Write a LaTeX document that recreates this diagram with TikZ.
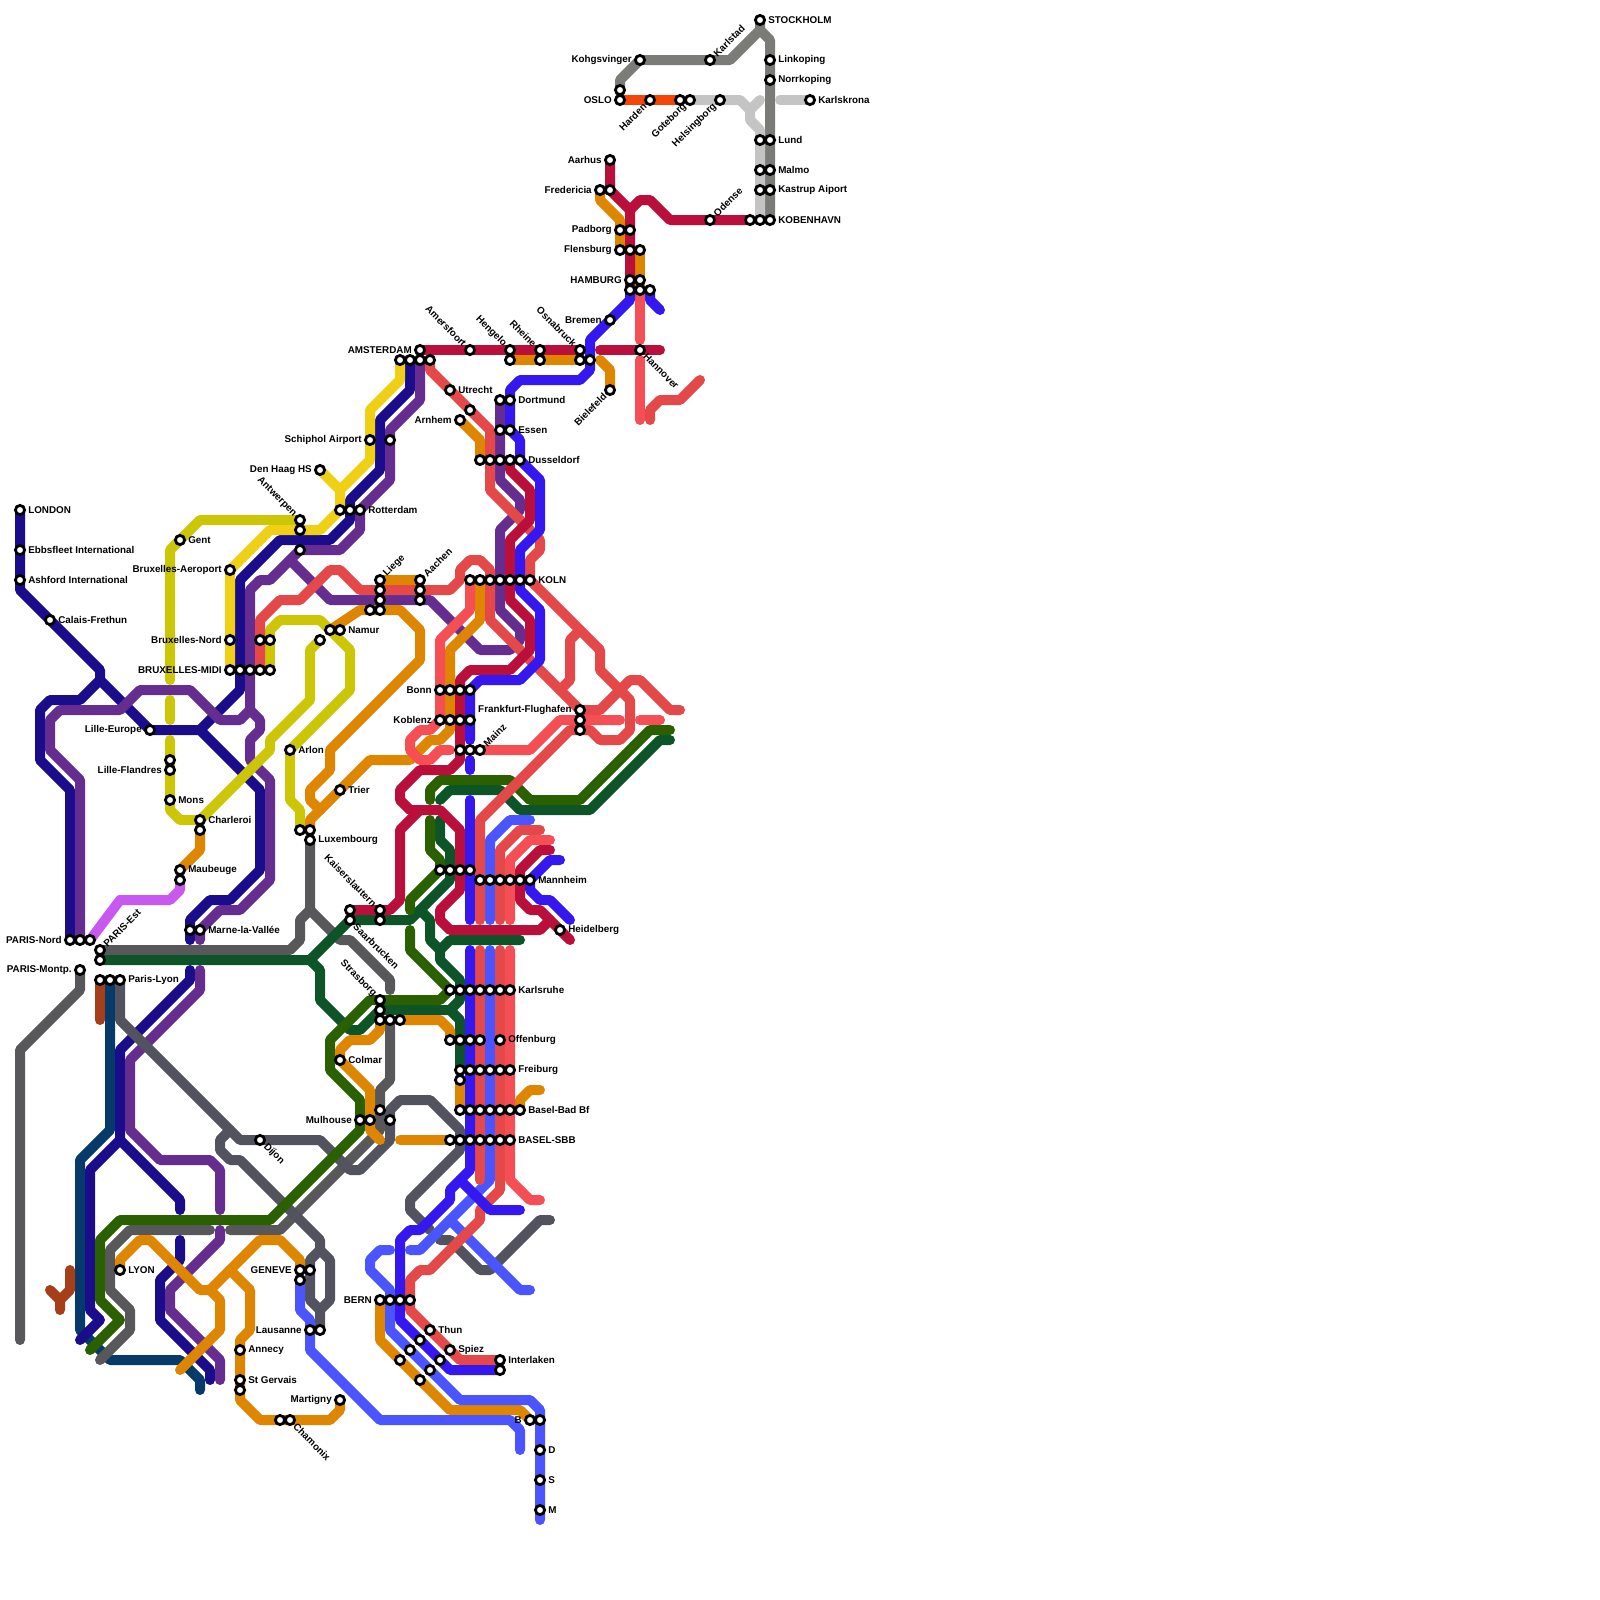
\documentclass[tikz,border=0pt]{standalone}
\usepackage{fontspec}
\setmainfont{Liberation Sans}
\definecolor{cNavy}{HTML}{1B0C8C}
\definecolor{cPurple}{HTML}{662D91}
\definecolor{cYellow}{HTML}{F0D015}
\definecolor{cOlive}{HTML}{CCC607}
\definecolor{cRed}{HTML}{E54848}
\definecolor{cLight}{HTML}{F54E54}
\definecolor{cCrim}{HTML}{BA0F3A}
\definecolor{cOrange}{HTML}{DF8600}
\definecolor{cViolet}{HTML}{3518F0}
\definecolor{cPeri}{HTML}{4A55FF}
\definecolor{cLilac}{HTML}{C858F0}
\definecolor{cDGreen}{HTML}{0D5528}
\definecolor{cGreen}{HTML}{2A6000}
\definecolor{cDGray}{HTML}{58585A}
\definecolor{cSlate}{HTML}{53535F}
\definecolor{cTeal}{HTML}{053A6B}
\definecolor{cBrown}{HTML}{A63E1A}
\definecolor{cSwe}{HTML}{7B7B78}
\definecolor{cLGray}{HTML}{C4C4C4}
\definecolor{cOslo}{HTML}{F44609}
\pgfdeclarelayer{rails}
\pgfsetlayers{rails,main}
\tikzset{
  rail/.style={line width=2.5mm,line cap=round,line join=round},
  stn/.style={circle,draw=black,fill=white,line width=0.7mm,minimum size=2.3mm,inner sep=0pt},
  lab/.style={font=\fontsize{7}{8}\selectfont\bfseries,inner sep=0pt,text=black},
  lr/.style={lab,anchor=west,xshift=2mm},
  ll/.style={lab,anchor=east,xshift=-2mm},
  lur/.style={lab,xshift=1.25mm,yshift=1.25mm,rotate=45,anchor=west},
  lul/.style={lab,xshift=-1.25mm,yshift=1.25mm,rotate=-45,anchor=east},
  ldr/.style={lab,xshift=1.25mm,yshift=-1.25mm,rotate=-45,anchor=west},
  ldl/.style={lab,xshift=-1.25mm,yshift=-1.25mm,rotate=45,anchor=east},
}
\newcommand{\st}[3]{\node[stn] (#1) at (#2,#3) {};}
\begin{document}
\begin{tikzpicture}[x=2.5mm,y=-2.5mm]
\useasboundingbox (0,0) rectangle (160,160);
% ---------- stations
\st{london}{2}{51}\st{ebbs}{2}{55}\st{ashford}{2}{58}\st{calais}{5}{62}
\st{lilleE}{15}{73}\st{lilleA}{17}{76}\st{lilleB}{17}{77}\st{mons}{17}{80}\st{gent}{18}{54}
\st{antwA}{30}{52}\st{antwB}{30}{53}\st{antwC}{30}{55}
\st{bxaero}{23}{57}\st{bxnord}{23}{64}
\st{midiA}{23}{67}\st{midiB}{24}{67}\st{midiC}{25}{67}\st{midiD}{26}{67}\st{midiE}{27}{67}\st{midiF}{26}{64}\st{midiG}{27}{64}
\st{charA}{20}{82}\st{charB}{20}{83}\st{maubA}{18}{87}\st{maubB}{18}{88}
\st{pnordA}{7}{94}\st{pnordB}{8}{94}\st{pnordC}{9}{94}\st{pestA}{10}{95}\st{pestB}{10}{96}\st{montp}{8}{97}
\st{plyonA}{10}{98}\st{plyonB}{11}{98}\st{plyonC}{12}{98}\st{marneA}{19}{93}\st{marneB}{20}{93}
\st{arlon}{29}{75}\st{trier}{34}{79}\st{luxA}{30}{83}\st{luxB}{31}{83}\st{luxC}{31}{84}
\st{namA}{32}{64}\st{namB}{33}{63}\st{namC}{34}{63}
\st{liegeA}{38}{58}\st{liegeB}{38}{59}\st{liegeC}{38}{60}\st{liegeD}{38}{61}\st{liegeE}{37}{61}
\st{aachA}{42}{58}\st{aachB}{42}{59}\st{aachC}{42}{60}
\st{rotA}{34}{51}\st{rotB}{35}{51}\st{rotC}{36}{51}\st{denhaag}{32}{47}\st{schA}{37}{44}\st{schB}{39}{44}
\st{amsA}{40}{36}\st{amsB}{41}{36}\st{amsC}{42}{36}\st{amsD}{43}{36}\st{amsE}{42}{35}
\st{amersf}{47}{35}\st{hengA}{51}{35}\st{hengB}{51}{36}\st{rheinA}{54}{35}\st{rheinB}{54}{36}
\st{osnA}{58}{35}\st{osnB}{58}{36}\st{osnC}{59}{36}
\st{utrA}{45}{39}\st{utrB}{47}{41}\st{arnhem}{46}{42}\st{dortA}{50}{40}\st{dortB}{51}{40}\st{essA}{50}{43}\st{essB}{51}{43}
\st{dusA}{48}{46}\st{dusB}{49}{46}\st{dusC}{50}{46}\st{dusD}{51}{46}\st{dusE}{52}{46}
\st{kolnA}{47}{58}\st{kolnB}{48}{58}\st{kolnC}{49}{58}\st{kolnD}{50}{58}\st{kolnE}{51}{58}\st{kolnF}{52}{58}\st{kolnG}{53}{58}
\st{bonnA}{44}{69}\st{bonnB}{45}{69}\st{bonnC}{46}{69}\st{bonnD}{47}{69}
\st{kobA}{44}{72}\st{kobB}{45}{72}\st{kobC}{46}{72}\st{kobD}{47}{72}
\st{mainzA}{46}{75}\st{mainzB}{47}{75}\st{mainzC}{48}{75}
\st{frankA}{58}{71}\st{frankB}{58}{72}\st{frankC}{58}{73}
\st{rowA}{44}{87}\st{rowB}{45}{87}\st{rowC}{46}{87}\st{rowD}{47}{87}
\st{mannA}{48}{88}\st{mannB}{49}{88}\st{mannC}{50}{88}\st{mannD}{51}{88}\st{mannE}{52}{88}\st{mannF}{53}{88}
\st{heidel}{56}{93}\st{kaisA}{35}{91}\st{kaisB}{38}{91}\st{saarA}{35}{92}\st{saarB}{38}{92}
\st{strA}{38}{100}\st{strB}{38}{101}\st{strC}{38}{102}\st{strD}{39}{102}\st{strE}{40}{102}
\st{karA}{45}{99}\st{karB}{46}{99}\st{karC}{47}{99}\st{karD}{48}{99}\st{karE}{49}{99}\st{karF}{50}{99}\st{karG}{51}{99}
\st{offA}{45}{104}\st{offB}{46}{104}\st{offC}{47}{104}\st{offD}{48}{104}\st{offE}{50}{104}
\st{freiA}{46}{107}\st{freiB}{47}{107}\st{freiC}{48}{107}\st{freiD}{49}{107}\st{freiE}{50}{107}\st{freiF}{51}{107}\st{freiG}{46}{108}
\st{bbadA}{46}{111}\st{bbadB}{47}{111}\st{bbadC}{48}{111}\st{bbadD}{49}{111}\st{bbadE}{50}{111}\st{bbadF}{51}{111}\st{bbadG}{52}{111}
\st{sbbA}{45}{114}\st{sbbB}{46}{114}\st{sbbC}{47}{114}\st{sbbD}{48}{114}\st{sbbE}{49}{114}\st{sbbF}{50}{114}\st{sbbG}{51}{114}
\st{mulA}{36}{112}\st{mulB}{37}{112}\st{mulC}{38}{111}\st{mulD}{39}{112}\st{colmar}{34}{106}\st{dijon}{26}{114}
\st{bernA}{38}{130}\st{bernB}{39}{130}\st{bernC}{40}{130}\st{bernD}{41}{130}
\st{thun}{43}{133}\st{thunB}{42}{134}\st{thunC}{41}{135}\st{thunD}{40}{136}
\st{spiez}{45}{135}\st{spiezB}{44}{136}\st{spiezC}{43}{137}\st{spiezD}{42}{138}
\st{interA}{50}{136}\st{interB}{50}{137}\st{bA}{53}{142}\st{bB}{54}{142}\st{dD}{54}{145}\st{sS}{54}{148}\st{mM}{54}{151}
\st{lyon}{12}{127}\st{genA}{30}{127}\st{genB}{31}{127}\st{genC}{30}{128}\st{lausA}{31}{133}\st{lausB}{32}{133}
\st{annecy}{24}{135}\st{gervA}{24}{138}\st{gervB}{24}{139}\st{martigny}{34}{140}\st{chamA}{28}{142}\st{chamB}{29}{142}
\st{stock}{76}{2}\st{link}{77}{6}\st{norr}{77}{8}\st{kohg}{64}{6}\st{karlstad}{71}{6}\st{osloA}{62}{9}\st{osloB}{62}{10}
\st{harden}{65}{10}\st{gotA}{68}{10}\st{gotB}{69}{10}\st{helsing}{72}{10}\st{karlsk}{81}{10}
\st{lundA}{76}{14}\st{lundB}{77}{14}\st{malA}{76}{17}\st{malB}{77}{17}\st{kasA}{76}{19}\st{kasB}{77}{19}
\st{kobhA}{75}{22}\st{kobhB}{76}{22}\st{kobhC}{77}{22}\st{odense}{71}{22}\st{aarhus}{61}{16}\st{fredA}{60}{19}\st{fredB}{61}{19}
\st{padA}{62}{23}\st{padB}{63}{23}\st{flenA}{62}{25}\st{flenB}{63}{25}\st{flenC}{64}{25}
\st{hamA}{63}{28}\st{hamB}{64}{28}\st{hamC}{63}{29}\st{hamD}{64}{29}\st{hamE}{65}{29}
\st{bremen}{61}{32}\st{hannover}{64}{35}\st{biele}{61}{39}
% ---------- labels
\node[lr] (tLondon) at (london) {LONDON};
\node[lr] (tEbbs) at (ebbs) {Ebbsfleet International};
\node[lr] (tAsh) at (ashford) {Ashford International};
\node[lr] (tCal) at (calais) {Calais-Frethun};
\node[ll] (tLilE) at (lilleE) {Lille-Europe};
\node[ll] (tLilF) at (lilleB) {Lille-Flandres};
\node[lr] (tMons) at (mons) {Mons};
\node[lr] (tGent) at (gent) {Gent};
\node[lul] (tAntw) at (antwA) {Antwerpen};
\node[ll] (tBxa) at (bxaero) {Bruxelles-Aeroport};
\node[ll] (tBxn) at (bxnord) {Bruxelles-Nord};
\node[ll] (tMidi) at (midiA) {BRUXELLES-MIDI};
\node[lr] (tChar) at (charA) {Charleroi};
\node[lr] (tMaub) at (maubA) {Maubeuge};
\node[ll] (tPn) at (pnordA) {PARIS-Nord};
\node[lur] (tPe) at (pestA) {PARIS-Est};
\node[ll] (tPm) at (montp) {PARIS-Montp.};
\node[lr] (tPl) at (plyonC) {Paris-Lyon};
\node[lr] (tMarne) at (marneB) {Marne-la-Vallée};
\node[lr] (tArlon) at (arlon) {Arlon};
\node[lr] (tTrier) at (trier) {Trier};
\node[lr] (tLux) at (luxC) {Luxembourg};
\node[lr] (tNam) at (namC) {Namur};
\node[lur] (tLiege) at (liegeA) {Liege};
\node[lur] (tAach) at (aachA) {Aachen};
\node[lr] (tRot) at (rotC) {Rotterdam};
\node[ll] (tDh) at (denhaag) {Den Haag HS};
\node[ll] (tSch) at (schA) {Schiphol Airport};
\node[ll] (tAms) at (amsE) {AMSTERDAM};
\node[lul] (tAmers) at (amersf) {Amersfoort};
\node[lul] (tHeng) at (hengA) {Hengelo};
\node[lul] (tRhein) at (rheinA) {Rheine};
\node[lul] (tOsn) at (osnA) {Osnabruck};
\node[lr] (tUtr) at (utrA) {Utrecht};
\node[ll] (tArn) at (arnhem) {Arnhem};
\node[lr] (tDort) at (dortB) {Dortmund};
\node[lr] (tEss) at (essB) {Essen};
\node[lr] (tDus) at (dusE) {Dusseldorf};
\node[lr] (tKoln) at (kolnG) {KOLN};
\node[ll] (tBonn) at (bonnA) {Bonn};
\node[ll] (tKob) at (kobA) {Koblenz};
\node[lur] (tMainz) at (mainzC) {Mainz};
\node[ll] (tFrank) at (frankA) {Frankfurt-Flughafen};
\node[lr] (tMann) at (mannF) {Mannheim};
\node[lr] (tHeid) at (heidel) {Heidelberg};
\node[lul] (tKais) at (kaisB) {Kaiserslautern};
\node[ldr] (tSaar) at (saarA) {Saarbrucken};
\node[lul] (tStr) at (strA) {Strasborg};
\node[lr] (tKar) at (karG) {Karlsruhe};
\node[lr] (tOff) at (offE) {Offenburg};
\node[lr] (tFrei) at (freiF) {Freiburg};
\node[lr] (tBbad) at (bbadG) {Basel-Bad Bf};
\node[lr] (tSbb) at (sbbG) {BASEL-SBB};
\node[ll] (tMul) at (mulA) {Mulhouse};
\node[lr] (tCol) at (colmar) {Colmar};
\node[ldr] (tDij) at (dijon) {Dijon};
\node[ll] (tBern) at (bernA) {BERN};
\node[lr] (tThun) at (thun) {Thun};
\node[lr] (tSpiez) at (spiez) {Spiez};
\node[lr] (tInter) at (interA) {Interlaken};
\node[ll] (tB) at (bA) {B};
\node[lr] (tD) at (dD) {D};
\node[lr] (tS) at (sS) {S};
\node[lr] (tM) at (mM) {M};
\node[lr] (tLyon) at (lyon) {LYON};
\node[ll] (tGen) at (genA) {GENEVE};
\node[ll] (tLaus) at (lausA) {Lausanne};
\node[lr] (tAnn) at (annecy) {Annecy};
\node[lr] (tGerv) at (gervA) {St Gervais};
\node[ll] (tMart) at (martigny) {Martigny};
\node[ldr] (tCham) at (chamB) {Chamonix};
\node[lr] (tStock) at (stock) {STOCKHOLM};
\node[lr] (tLink) at (link) {Linkoping};
\node[lr] (tNorr) at (norr) {Norrkoping};
\node[ll] (tKohg) at (kohg) {Kohgsvinger};
\node[lur] (tKarlst) at (karlstad) {Karlstad};
\node[ll] (tOslo) at (osloB) {OSLO};
\node[ldl] (tHard) at (harden) {Harden};
\node[ldl] (tGot) at (gotB) {Goteborg};
\node[ldl] (tHels) at (helsing) {Helsingborg};
\node[lr] (tKarlsk) at (karlsk) {Karlskrona};
\node[lr] (tLund) at (lundB) {Lund};
\node[lr] (tMal) at (malB) {Malmo};
\node[lr] (tKas) at (kasB) {Kastrup Aiport};
\node[lr] (tKobh) at (kobhC) {KOBENHAVN};
\node[lur] (tOd) at (odense) {Odense};
\node[ll] (tAar) at (aarhus) {Aarhus};
\node[ll] (tFred) at (fredA) {Fredericia};
\node[ll] (tPad) at (padA) {Padborg};
\node[ll] (tFlen) at (flenA) {Flensburg};
\node[ll] (tHam) at (hamA) {HAMBURG};
\node[ll] (tBrem) at (bremen) {Bremen};
\node[ldr] (tHann) at (hannover) {Hannover};
\node[ldl] (tBiel) at (biele) {Bielefeld};
% ---------- rails
\begin{pgfonlayer}{rails}
\begin{scope}[rail]
% teal
\draw[cTeal] (plyonB.center) -- (11,113) -- (8,116) -- (8,133) -- (11,136) -- (18,136) -- (20,138) -- (20,139);
% brown
\draw[cBrown] (plyonA.center) -- (10,102);
\draw[cBrown] (5,129) -- (6,130) -- (6,131);
\draw[cBrown] (6,130) -- (7,129) -- (7,127);
% dark gray
\draw[cDGray] (luxC.center) -- (31,91) -- (30,92) -- (30,94) -- (29,95) -- (pestA.center);
\draw[cDGray] (31,91) -- (34,94) -- (35,94) -- (39,98) -- (39,99);
\draw[cDGray] (montp.center) -- (8,99) -- (2,105) -- (2,134);
\draw[cDGray] (strD.center) -- (39,108) -- (38,109) -- (38,113) -- (28,123) -- (23,123);
\draw[cDGray] (21,123) -- (13,123) -- (11,125) -- (11,129) -- (13,131) -- (13,133) -- (10,136);
% navy
\draw[cNavy] (london.center) -- (2,59) -- (10,67) -- (10,68) -- (15,73) -- (20,73) -- (26,79) -- (26,87) -- (23,90) -- (21,90) -- (19,92) -- (19,94);
\draw[cNavy] (pnordA.center) -- (7,79) -- (4,76) -- (4,71) -- (5,70) -- (8,70) -- (10,68);
\draw[cNavy] (20,73) -- (24,69) -- (24,58) -- (28,54) -- (33,54) -- (35,52) -- (rotB.center) -- (35,50) -- (38,47) -- (38,42) -- (41,39) -- (amsB.center);
\draw[cNavy] (19,97) -- (19,98) -- (12,105) -- (12,114) -- (9,117) -- (9,131) -- (10,132) -- (8,134);
\draw[cNavy] (12,114) -- (18,120) -- (18,121);
\draw[cNavy] (18,124) -- (18,126) -- (16,128) -- (16,132) -- (21,137) -- (21,138);
% purple
\draw[cPurple] (pnordB.center) -- (8,78) -- (5,75) -- (5,72) -- (6,71) -- (12,71) -- (14,69) -- (19,69) -- (22,72) -- (24,72) -- (25,71) -- (25,59) -- (26,58) -- (27,58) -- (30,55) -- (34,55) -- (36,53) -- (rotC.center) -- (39,48) -- (39,43) -- (42,40) -- (amsC.center);
\draw[cPurple] (25,71) -- (26,72) -- (26,73) -- (25,74) -- (25,76) -- (27,78) -- (27,88) -- (24,91) -- (22,91) -- (20,93) -- (20,94);
\draw[cPurple] (29,56) -- (33,60) -- (43,60) -- (48,65) -- (51,65) -- (52,64) -- (52,63) -- (50,61) -- (50,53) -- (51,52) -- (52,51) -- (52,50) -- (50,48) -- (dortA.center);
\draw[cPurple] (20,97) -- (20,99) -- (13,106) -- (13,113) -- (16,116) -- (21,116) -- (22,117) -- (22,121);
\draw[cPurple] (22,123) -- (22,124) -- (17,129) -- (17,131) -- (22,136) -- (22,138);
% olive
\draw[cOlive] (17,68) -- (17,55) -- (20,52) -- (antwA.center);
\draw[cOlive] (17,70) -- (17,72);
\draw[cOlive] (17,74) -- (17,81) -- (18,82) -- (charA.center) -- (27,75) -- (27,74) -- (31,70) -- (31,65) -- (namA.center);
\draw[cOlive] (midiE.center) -- (27,63) -- (28,62) -- (32,62) -- (35,65) -- (35,69) -- (arlon.center) -- (29,80) -- (30,81) -- (luxA.center);
% yellow
\draw[cYellow] (midiA.center) -- (23,57) -- (27,53) -- (32,53) -- (rotA.center) -- (34,49) -- (37,46) -- (37,41) -- (40,38) -- (amsA.center);
\draw[cYellow] (denhaag.center) -- (34,49);
% lilac
\draw[cLilac] (pnordC.center) -- (12,90) -- (17,90) -- (18,89) -- (maubB.center);
% slate
\draw[cSlate] (plyonC.center) -- (12,102) -- (24,114) -- (32,114) -- (35,117) -- (36,117) -- (39,114) -- (39,111) -- (40,110) -- (43,110) -- (46,113) -- (46,115) -- (41,120) -- (41,121) -- (43,123);
\draw[cSlate] (44,124) -- (45,124) -- (48,127) -- (49,127) -- (54,122) -- (55,122);
\draw[cSlate] (23,113) -- (22,114) -- (22,115) -- (23,116) -- (24,116) -- (32,124) -- (32,125) -- (33,126) -- (33,130) -- (32,131) -- (lausB.center);
\draw[cSlate] (32,125) -- (31,126) -- (31,130) -- (32,131);
% dark green
\draw[cDGreen] (pestB.center) -- (31,96) -- (saarA.center) -- (41,92) -- (45,88) -- (45,85) -- (44,84) -- (44,82);
\draw[cDGreen] (31,96) -- (32,97) -- (32,100) -- (35,103) -- (36,103) -- (strB.center) -- (45,101) -- (46,102) -- (46,107);
\draw[cDGreen] (42,91) -- (43,92) -- (43,94) -- (44,95) -- (44,96) -- (46,98) -- (46,100) -- (45,101);
\draw[cDGreen] (44,95) -- (45,94) -- (52,94);
\draw[cDGreen] (44,80) -- (45,79) -- (50,79) -- (52,81) -- (59,81) -- (66,74) -- (67,74);
% green
\draw[cGreen] (43,80) -- (43,79) -- (44,78) -- (51,78) -- (53,80) -- (58,80) -- (65,73) -- (67,73);
\draw[cGreen] (43,82) -- (43,85) -- (44,86) -- (44,87) -- (41,90) -- (41,91);
\draw[cGreen] (41,93) -- (41,95) -- (45,99) -- (44,100) -- (strA.center) -- (37,100) -- (33,104) -- (33,107) -- (36,110) -- (mulA.center) -- (36,113) -- (27,122) -- (12,122) -- (10,124) -- (10,130) -- (12,132) -- (9,135);
% orange
\draw[cOrange] (fredA.center) -- (60,20) -- (62,22) -- (flenA.center);
\draw[cOrange] (flenC.center) -- (hamD.center);
\draw[cOrange] (hengB.center) -- (osnB.center);
\draw[cOrange] (60,36) -- (61,37) -- (biele.center);
\draw[cOrange] (arnhem.center) -- (48,44) -- (dusA.center);
\draw[cOrange] (liegeA.center) -- (aachA.center);
\draw[cOrange] (namB.center) -- (36,61) -- (40,61) -- (42,63) -- (42,66) -- (33,75) -- (33,77) -- (31,79) -- (31,80) -- (32,81);
\draw[cOrange] (luxB.center) -- (31,82) -- (37,76) -- (41,76) -- (43,74) -- (44,74) -- (45,73) -- (45,65) -- (48,62) -- (kolnB.center);
\draw[cOrange] (charB.center) -- (20,85) -- (maubA.center);
\draw[cOrange] (strC.center) -- (38,103) -- (37,104) -- (35,104) -- (34,105) -- (34,106) -- (37,109) -- (37,113) -- (38,114);
\draw[cOrange] (strE.center) -- (44,102) -- (45,103) -- (offA.center);
\draw[cOrange] (freiG.center) -- (bbadA.center);
\draw[cOrange] (40,114) -- (sbbA.center);
\draw[cOrange] (bbadG.center) -- (52,110) -- (53,109) -- (54,109);
\draw[cOrange] (bernA.center) -- (38,134) -- (45,141) -- (52,141) -- (bA.center);
\draw[cOrange] (lyon.center) -- (12,126) -- (14,124) -- (15,124) -- (20,129) -- (21,129) -- (22,130) -- (22,133) -- (18,137);
\draw[cOrange] (21,129) -- (26,124) -- (28,124) -- (30,126) -- (genA.center);
\draw[cOrange] (23,127) -- (25,129) -- (25,133) -- (24,134) -- (24,140) -- (26,142) -- (33,142) -- (34,141) -- (martigny.center);
% periwinkle
\draw[cPeri] (49,92) -- (49,84) -- (51,82) -- (53,82);
\draw[cPeri] (49,95) -- (49,118) -- (42,125) -- (41,125);
\draw[cPeri] (45,122) -- (52,129) -- (53,129);
\draw[cPeri] (39,125) -- (38,125) -- (37,126) -- (37,127) -- (39,129) -- (39,133) -- (46,140) -- (53,140) -- (54,141) -- (54,152);
\draw[cPeri] (genC.center) -- (30,131) -- (31,132) -- (31,135) -- (38,142) -- (51,142) -- (52,143) -- (52,145);
% dark red
\draw[cRed] (midiD.center) -- (26,62) -- (28,60) -- (30,60) -- (33,57) -- (34,57) -- (36,59) -- (45,59) -- (46,58) -- (46,57) -- (47,56) -- (48,56) -- (49,57) -- (49,62) -- (frankA.center) -- (60,71) -- (63,68) -- (64,68) -- (67,71) -- (68,71);
\draw[cRed] (amsD.center) -- (43,37) -- (49,43) -- (49,49) -- (54,54) -- (54,55) -- (53,56) -- (kolnG.center) -- (60,65) -- (60,67) -- (63,70) -- (63,73) -- (62,74) -- (60,74) -- (59,73) -- (frankC.center) -- (57,73) -- (48,82) -- (48,92);
\draw[cRed] (58,63) -- (57,64) -- (57,68) -- (56,69);
\draw[cRed] (65,42) -- (65,41) -- (66,40) -- (68,40) -- (70,38);
\draw[cRed] (50,92) -- (50,85) -- (52,83) -- (54,83);
\draw[cRed] (48,95) -- (48,118);
\draw[cRed] (50,95) -- (50,119) -- (48,121) -- (48,122) -- (43,127) -- (42,127) -- (41,128) -- (41,131) -- (46,136) -- (interA.center);
% light red
\draw[cLight] (hamD.center) -- (64,34);
\draw[cLight] (64,36) -- (64,42);
\draw[cLight] (kolnA.center) -- (47,61) -- (44,64) -- (44,72) -- (43,73) -- (42,73) -- (41,74) -- (41,75) -- (42,76) -- (43,76) -- (44,75) -- (45,75);
\draw[cLight] (mainzC.center) -- (53,75) -- (56,72) -- (62,72);
\draw[cLight] (64,72) -- (66,72);
\draw[cLight] (51,92) -- (51,86) -- (53,84) -- (55,84);
\draw[cLight] (51,95) -- (51,118) -- (53,120) -- (54,120);
% crimson
\draw[cCrim] (amsE.center) -- (osnA.center);
\draw[cCrim] (60,35) -- (66,35);
\draw[cCrim] (aarhus.center) -- (61,19) -- (63,21) -- (hamC.center);
\draw[cCrim] (63,21) -- (64,20) -- (65,20) -- (67,22) -- (kobhA.center);
\draw[cCrim] (dusD.center) -- (51,47) -- (53,49) -- (53,52) -- (51,54) -- (51,60) -- (53,62) -- (53,65) -- (51,67) -- (47,67) -- (46,68) -- (46,76) -- (45,77) -- (42,77) -- (40,79) -- (40,80) -- (41,81) -- (44,81) -- (46,83) -- (46,89) -- (44,91) -- (44,92) -- (45,93) -- (54,93) -- (55,92);
\draw[cCrim] (42,81) -- (40,83) -- (40,90) -- (39,91) -- (kaisA.center);
\draw[cCrim] (55,85) -- (54,85) -- (52,87) -- (52,90) -- (53,91) -- (54,91) -- (57,94);
% violet
\draw[cViolet] (hamC.center) -- (63,30) -- (59,34) -- (59,37) -- (58,38) -- (52,38) -- (51,39) -- (51,43) -- (52,44) -- (52,46) -- (54,48) -- (54,53) -- (52,55) -- (52,59) -- (54,61) -- (54,66) -- (52,68) -- (48,68) -- (47,69) -- (47,74);
\draw[cViolet] (47,76) -- (47,77);
\draw[cViolet] (47,80) -- (47,92);
\draw[cViolet] (hamE.center) -- (65,30) -- (66,31);
\draw[cViolet] (56,86) -- (55,86) -- (53,88) -- (53,89) -- (54,90) -- (55,90) -- (57,92);
\draw[cViolet] (47,95) -- (47,117) -- (45,119) -- (45,120) -- (42,123) -- (41,123) -- (40,124) -- (40,132) -- (45,137) -- (interB.center);
\draw[cViolet] (46,118) -- (49,121) -- (52,121);
% Scandinavia
\draw[cSwe] (stock.center) -- (76,3) -- (77,4) -- (kobhC.center);
\draw[cSwe] (76,3) -- (73,6) -- (64,6) -- (62,8) -- (osloA.center);
\draw[cLGray] (gotB.center) -- (74,10) -- (75,11) -- (75,12) -- (76,13) -- (kobhB.center);
\draw[cLGray] (75,11) -- (76,10);
\draw[cLGray] (78,10) -- (karlsk.center);
\draw[cOslo] (osloB.center) -- (gotA.center);
\end{scope}
\end{pgfonlayer}
\end{tikzpicture}
\end{document}
